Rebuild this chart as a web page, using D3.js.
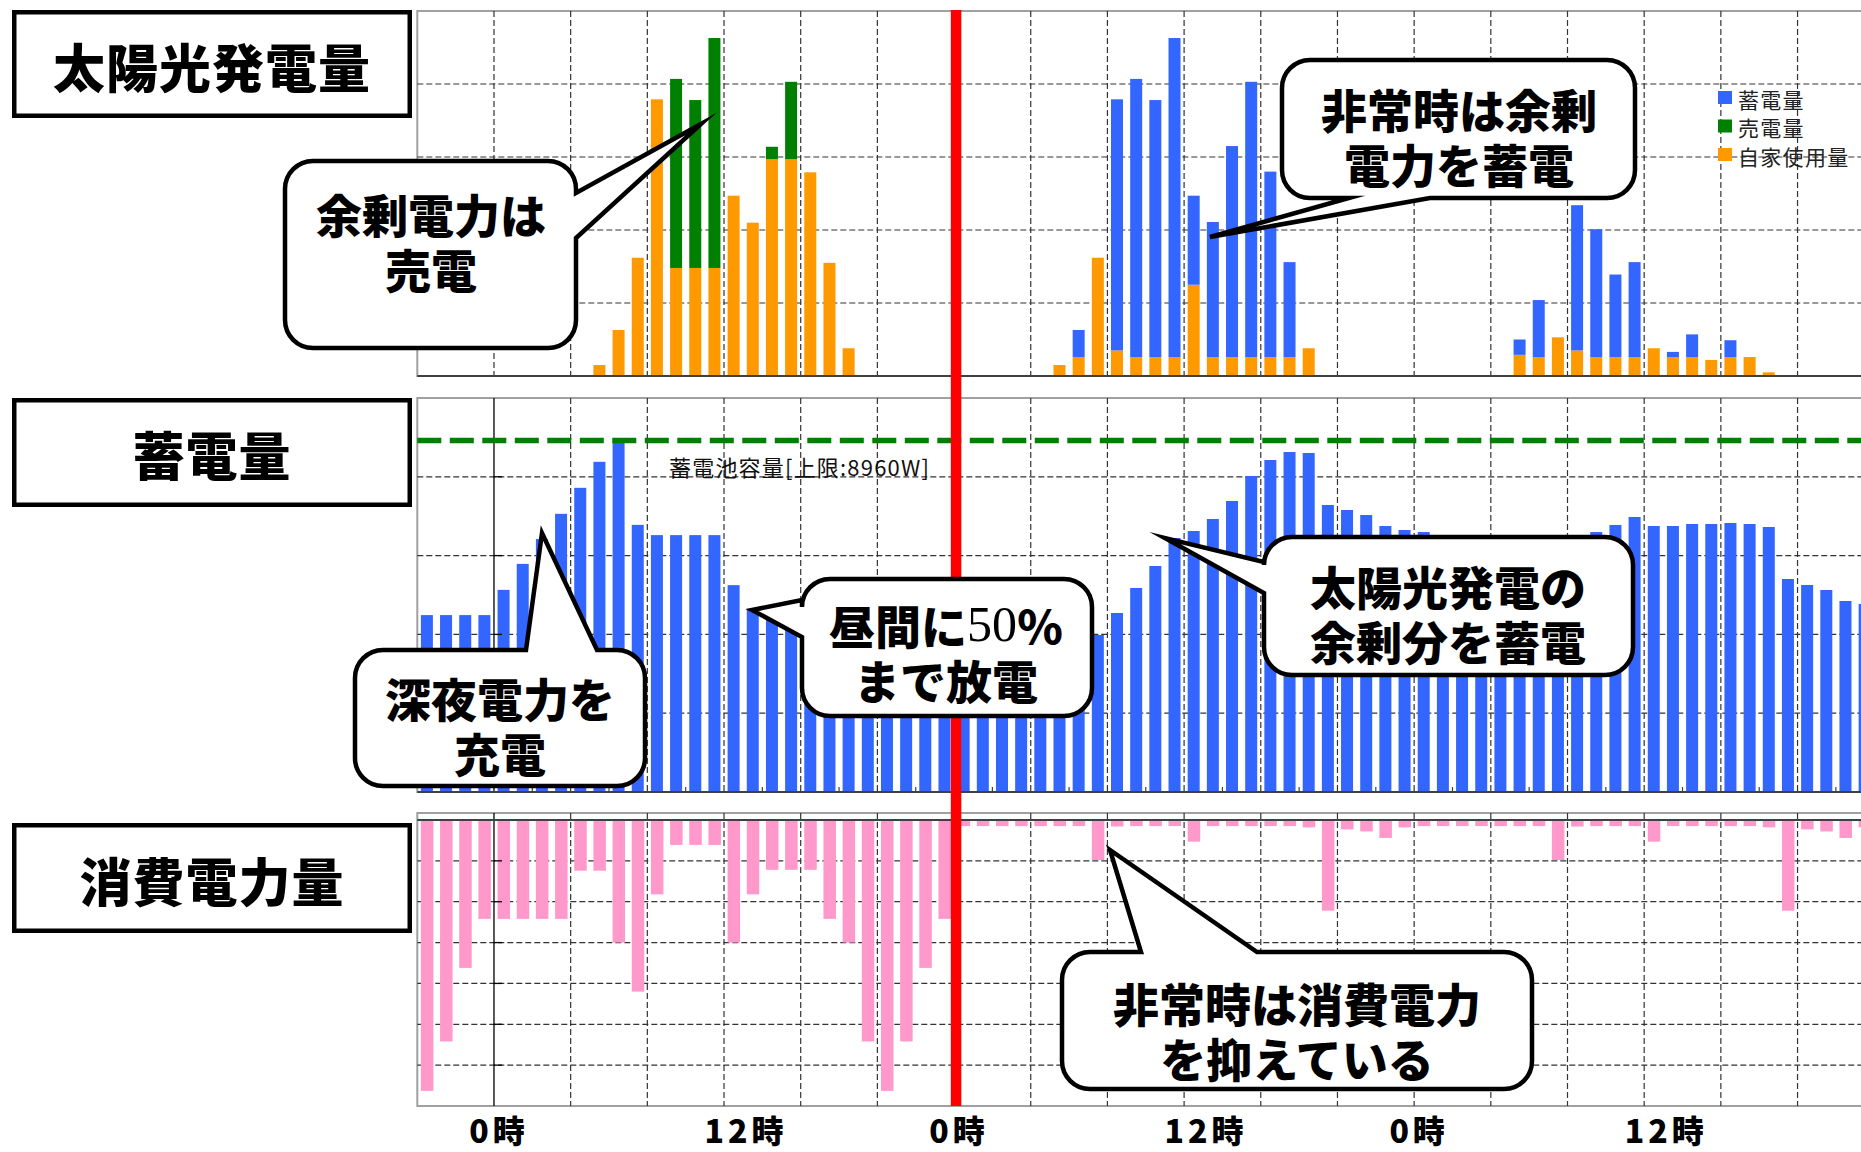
<!DOCTYPE html>
<html><head><meta charset="utf-8">
<script src="https://cdn.jsdelivr.net/npm/d3@7"></script>
<style>body{margin:0;background:#fff}svg{display:block}</style>
</head><body>
<svg id="c" width="1861" height="1152"></svg>
<script>
// ---------------- DATA ----------------
// hourly slots from 20時 of the previous day (-4) to 23時 of day 3 (71)
const slotHours = d3.range(-4, 72);
// 太陽光発電量 (W) split by use
const selfUse = [0,0,0,0,
  0,0,0,0,0,150,630,1620,3790,1480,1480,1480,2470,2100,2970,2970,2790,1550,380,0,0,0,0,0,
  0,0,0,0,0,150,260,1620,350,260,260,260,1250,260,260,260,260,260,380,0,0,0,0,0,
  0,0,0,0,0,290,260,530,350,260,260,260,380,260,260,220,260,260,50,0,0,0,0,0];
const sold = [0,0,0,0,
  0,0,0,0,0,0,0,0,0,2590,2300,3150,0,0,170,1060,0,0,0,0,0,0,0,0,
  0,0,0,0,0,0,0,0,0,0,0,0,0,0,0,0,0,0,0,0,0,0,0,0,
  0,0,0,0,0,0,0,0,0,0,0,0,0,0,0,0,0,0,0,0,0,0,0,0];
const stored = [0,0,0,0,
  0,0,0,0,0,0,0,0,0,0,0,0,0,0,0,0,0,0,0,0,0,0,0,0,
  0,0,0,0,0,0,370,0,3440,3810,3520,4370,1220,1850,2890,3770,2540,1300,0,0,0,0,0,0,
  0,0,0,0,0,210,780,0,1990,1750,1130,1300,0,70,310,0,230,0,0,0,0,0,0,0];
// 蓄電量 (W)
const battery = [4490,4490,4490,4490,
  5130,5790,6420,7060,7720,8380,8900,6780,6520,6520,6520,6520,5250,4645,4480,4480,4480,4480,4480,4480,4480,4480,4480,4480,
  4420,4360,4300,4240,4180,4120,4060,3985,4543,5178,5736,6447,6624,6929,7386,8020,8426,8629,8604,7284,7157,7030,6751,6650,
  6599,6480,6420,6380,6340,6300,6340,6300,6450,6599,6777,6980,6751,6751,6802,6802,6827,6802,6726,5406,5254,5127,4848,4772];
// 消費電力量 (W)
const consumption = [3315,2710,1810,1210,
  1210,1210,1210,1210,620,620,1500,2100,910,305,305,305,1500,910,610,610,610,1210,1500,2710,3315,2710,1810,1210,
  75,75,75,75,75,75,75,490,80,75,75,75,265,75,75,75,75,75,90,1110,115,140,220,90,
  75,75,75,75,75,75,75,490,80,75,75,75,265,75,75,75,75,75,90,1110,115,140,220,90];
const capacity = 8960;
const capacityLabel = "蓄電池容量[上限:8960W]";
const tickHours = [0, 12, 24, 36, 48, 60];
const tickLabels = ["0時", "12時", "0時", "12時", "0時", "12時"];
const seriesKeys = ["self", "sold", "stored"];
const seriesNames = {self: "自家使用量", sold: "売電量", stored: "蓄電量"};
const panelTitles = ["太陽光発電量", "蓄電量", "消費電力量"];

// ---------------- STYLE ----------------
const COL = {self: "#FF9900", sold: "#008000", stored: "#3366FF", batt: "#3366FF", cons: "#FF99CC"};
const JP = '"Noto Sans CJK JP", "Noto Sans CJK SC", sans-serif';
const svg = d3.select("#c");
svg.append("rect").attr("width", 1861).attr("height", 1152).attr("fill", "#fff");

const x = d3.scaleLinear().domain([-4, 72]).range([417.3, 417.3 + 76 * 19.17]);
const barW = 12;
const y1 = d3.scaleLinear().domain([0, 5000]).range([376, 11]);
const y2 = d3.scaleLinear().domain([0, 10000]).range([792, 398]);
const y3 = d3.scaleLinear().domain([0, 3500]).range([820, 1106]);
const rightEdge = x(72);

// ---------------- TITLE BOXES ----------------
const titleBoxes = [[12, 10, 412, 118], [12, 398, 412, 507], [12, 823, 412, 933]];
titleBoxes.forEach((b, i) => {
  svg.append("rect").attr("x", b[0] + 2.25).attr("y", b[1] + 2.25)
    .attr("width", b[2] - b[0] - 4.5).attr("height", b[3] - b[1] - 4.5)
    .attr("fill", "#fff").attr("stroke", "#000").attr("stroke-width", 4.5);
  svg.append("text").attr("x", (b[0] + b[2]) / 2).attr("y", (b[1] + b[3]) / 2 + 1)
    .attr("text-anchor", "middle").attr("dominant-baseline", "central")
    .attr("font-family", JP).attr("font-weight", 900).attr("font-size", 52)
    .attr("letter-spacing", 1).text(panelTitles[i]);
});

// ---------------- GRID helpers ----------------
function vGrid(top, bottom, solidZero) {
  const g = svg.append("g");
  d3.range(0, 72, 4).forEach(h => {
    if (h === 24) return;
    const solid = solidZero && h === 0;
    g.append("line").attr("x1", x(h)).attr("x2", x(h)).attr("y1", top).attr("y2", bottom)
      .attr("stroke", solid ? "#000" : "#333").attr("stroke-width", solid ? 1.3 : 1.2)
      .attr("stroke-dasharray", solid ? null : "6,3");
  });
}
function hGrid(scale, values) {
  const g = svg.append("g");
  values.forEach(v => g.append("line").attr("x1", x(-4)).attr("x2", rightEdge)
    .attr("y1", scale(v)).attr("y2", scale(v))
    .attr("stroke", "#333").attr("stroke-width", 1.2).attr("stroke-dasharray", "6,3"));
}
function frame(top, bottom) {
  svg.append("rect").attr("x", x(-4)).attr("y", top).attr("width", rightEdge - x(-4) + 10)
    .attr("height", bottom - top).attr("fill", "none").attr("stroke", "#a0a0a0").attr("stroke-width", 2);
}

// ---------------- PANEL 1: solar ----------------
frame(11, 376);
hGrid(y1, [1000, 2000, 3000, 4000]);
vGrid(11, 376, false);
const table = slotHours.map((h, i) => ({h, self: selfUse[i], sold: sold[i], stored: stored[i]}));
const stack = d3.stack().keys(seriesKeys)(table);
svg.append("g").selectAll("g").data(stack).join("g").attr("fill", d => COL[d.key])
  .selectAll("rect").data(d => d.filter(p => p[1] - p[0] > 0)).join("rect")
  .attr("x", d => x(d.data.h + 0.5) - barW / 2).attr("width", barW)
  .attr("y", d => y1(d[1])).attr("height", d => y1(d[0]) - y1(d[1]));
svg.append("line").attr("x1", x(-4)).attr("x2", rightEdge).attr("y1", y1(0)).attr("y2", y1(0))
  .attr("stroke", "#404040").attr("stroke-width", 2);

// legend
const legendKeys = ["stored", "sold", "self"];
legendKeys.forEach((k, i) => {
  const cy = 97.5 + i * 28.5;
  svg.append("rect").attr("x", 1718).attr("y", cy - 6.5).attr("width", 14).attr("height", 13).attr("fill", COL[k]);
  svg.append("text").attr("x", 1738).attr("y", cy + 1).attr("dominant-baseline", "central")
    .attr("font-family", JP).attr("font-size", 21).attr("fill", "#222").attr("letter-spacing", 1.3)
    .text(seriesNames[k]);
});

// ---------------- PANEL 2: battery ----------------
frame(398, 792);
hGrid(y2, [2000, 4000, 6000, 8000]);
vGrid(398, 792, true);
svg.append("g").attr("fill", COL.batt).selectAll("rect").data(slotHours).join("rect")
  .attr("x", h => x(h + 0.5) - barW / 2).attr("width", barW)
  .attr("y", (h, i) => y2(battery[i])).attr("height", (h, i) => y2(0) - y2(battery[i]));
svg.append("line").attr("x1", x(-4)).attr("x2", rightEdge).attr("y1", y2(0)).attr("y2", y2(0))
  .attr("stroke", "#404040").attr("stroke-width", 2);
[2000, 4000, 6000, 8000].forEach(v => svg.append("line").attr("x1", x(0)).attr("x2", x(0) + 8)
  .attr("y1", y2(v)).attr("y2", y2(v)).attr("stroke", "#000").attr("stroke-width", 1.3));
d3.range(2, 72, 4).forEach(h => svg.append("line").attr("x1", x(h)).attr("x2", x(h))
  .attr("y1", y2(0)).attr("y2", y2(0) - 5).attr("stroke", "#404040").attr("stroke-width", 1.2));
svg.append("line").attr("x1", x(-4)).attr("x2", rightEdge).attr("y1", y2(capacity) + 1.5).attr("y2", y2(capacity) + 1.5)
  .attr("stroke", "#008000").attr("stroke-width", 5.5).attr("stroke-dasharray", "24,8.5");
svg.append("text").attr("x", 669).attr("y", 466).attr("dominant-baseline", "central")
  .attr("font-family", JP).attr("font-size", 22).attr("letter-spacing", 1.2).attr("fill", "#111").text(capacityLabel);

// ---------------- PANEL 3: consumption ----------------
frame(813, 1106);
hGrid(y3, [500, 1000, 1500, 2000, 2500, 3000]);
vGrid(813, 1106, true);
svg.append("g").attr("fill", COL.cons).selectAll("rect").data(slotHours).join("rect")
  .attr("x", h => x(h + 0.5) - barW / 2).attr("width", barW + 0.5)
  .attr("y", y3(0)).attr("height", (h, i) => y3(consumption[i]) - y3(0));
svg.append("line").attr("x1", x(-4)).attr("x2", rightEdge).attr("y1", y3(0)).attr("y2", y3(0))
  .attr("stroke", "#404040").attr("stroke-width", 2);
[500, 1000, 1500, 2000, 2500, 3000].forEach(v => svg.append("line").attr("x1", x(0)).attr("x2", x(0) + 8)
  .attr("y1", y3(v)).attr("y2", y3(v)).attr("stroke", "#000").attr("stroke-width", 1.3));

// x tick labels
tickHours.forEach((h, i) => {
  const dx = tickLabels[i].length > 2 ? 22 : 5;
  svg.append("text").attr("x", x(h) + dx).attr("y", 1129).attr("text-anchor", "middle")
    .attr("dominant-baseline", "central").attr("font-family", JP).attr("font-weight", 900)
    .attr("font-size", 32).attr("letter-spacing", 4).text(tickLabels[i]);
});

// red "now" line at day-2 0時
svg.append("line").attr("x1", x(24) + 2).attr("x2", x(24) + 2).attr("y1", 10).attr("y2", 1106)
  .attr("stroke", "#FF0000").attr("stroke-width", 10.5);

// ---------------- CALLOUTS ----------------
function bubblePath(b) {
  const {x0, y0, x1, y1, r, side, p, tip} = b;
  let s = `M${x0 + r},${y0}`;
  if (side === "top") s += `L${p[0]},${y0}L${tip[0]},${tip[1]}L${p[1]},${y0}`;
  s += `L${x1 - r},${y0}A${r},${r} 0 0 1 ${x1},${y0 + r}`;
  if (side === "right") s += `L${x1},${p[0]}L${tip[0]},${tip[1]}L${x1},${p[1]}`;
  s += `L${x1},${y1 - r}A${r},${r} 0 0 1 ${x1 - r},${y1}`;
  if (side === "bottom") s += `L${p[0]},${y1}L${tip[0]},${tip[1]}L${p[1]},${y1}`;
  s += `L${x0 + r},${y1}A${r},${r} 0 0 1 ${x0},${y1 - r}`;
  if (side === "left") s += `L${x0},${p[0]}L${tip[0]},${tip[1]}L${x0},${p[1]}`;
  s += `L${x0},${y0 + r}A${r},${r} 0 0 1 ${x0 + r},${y0}Z`;
  return s;
}
const callouts = [
  {x0: 285, y0: 161, x1: 576, y1: 348, r: 28, side: "right", p: [193, 238], tip: [701, 124],
   cx: 431, y: 213, lines: ["余剰電力は", "売電"]},
  {x0: 1282, y0: 60, x1: 1635, y1: 198, r: 28, side: "bottom", p: [1430, 1349], tip: [1210, 237],
   cx: 1459, y: 108, lines: ["非常時は余剰", "電力を蓄電"]},
  {x0: 355, y0: 650, x1: 645, y1: 786, r: 28, side: "top", p: [526, 597], tip: [542, 533],
   cx: 500, y: 697, lines: ["深夜電力を", "充電"]},
  {x0: 802, y0: 579, x1: 1092, y1: 716, r: 28, side: "left", p: [637, 600], tip: [752, 610],
   cx: 946, y: 624, lines: ["昼間に|50|％", "まで放電"]},
  {x0: 1264, y0: 537, x1: 1633, y1: 675, r: 28, side: "left", p: [593, 562], tip: [1165, 538],
   cx: 1448, y: 585, lines: ["太陽光発電の", "余剰分を蓄電"]},
  {x0: 1062, y0: 952, x1: 1532, y1: 1089, r: 28, side: "top", p: [1141, 1257], tip: [1110, 850],
   cx: 1297, y: 1002, lines: ["非常時は消費電力", "を抑えている"]}
];
callouts.forEach(c => {
  svg.append("path").attr("d", bubblePath(c)).attr("fill", "#fff").attr("stroke", "#000")
    .attr("stroke-width", 4.5).attr("stroke-linejoin", "miter").attr("stroke-miterlimit", 10);
  const tx = svg.append("text").attr("x", c.cx).attr("y", c.y).attr("text-anchor", "middle")
    .attr("dominant-baseline", "central").attr("font-family", JP).attr("font-weight", 900)
    .attr("font-size", 46);
  c.lines.forEach((t, li) => {
    // first piece of each line carries the line position
    const parts = t.split("|");
    parts.forEach((part, pi) => {
      const ts = tx.append("tspan").text(part);
      if (pi === 0 && li > 0) ts.attr("x", c.cx).attr("dy", 55);
      if (pi === 0 && li === 0 && parts.length > 1) {
        // mixed-font line: anchor whole line via a leading x only
      }
      if (pi === 1) ts.attr("font-family", '"Liberation Serif", serif').attr("font-weight", 400).attr("font-size", 50);
    });
  });
});
</script>
</body></html>
